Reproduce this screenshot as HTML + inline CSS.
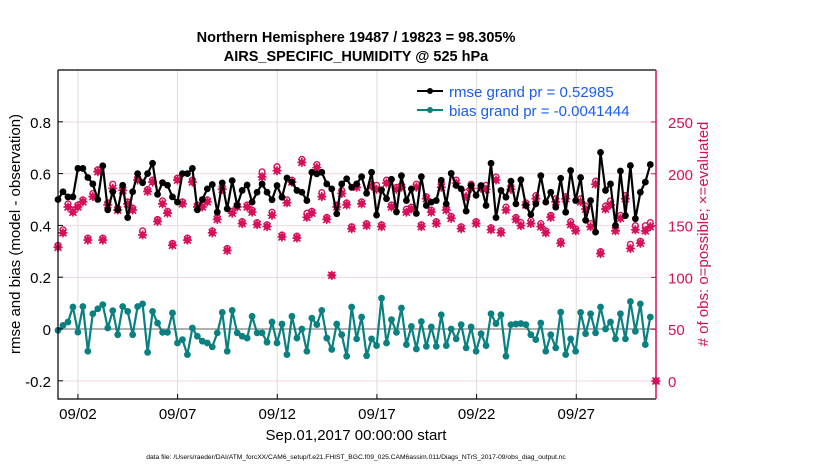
<!DOCTYPE html>
<html><head><meta charset="utf-8"><style>
body{margin:0;background:#fff;}
svg{display:block;font-family:"Liberation Sans",Arial,sans-serif;}
</style></head><body>
<svg id="chart" width="830" height="470" viewBox="0 0 830 470">
<rect x="0" y="0" width="830" height="470" fill="#fff"/>
<text x="356" y="42" text-anchor="middle" font-size="14.5" font-weight="bold">Northern Hemisphere 19487 / 19823 = 98.305%</text>
<text x="356" y="61" text-anchor="middle" font-size="14.5" font-weight="bold">AIRS_SPECIFIC_HUMIDITY @ 525 hPa</text>
<g id="grid"></g>
<g id="marks"></g>
<g id="axes"></g>
<text transform="translate(20,234) rotate(-90)" text-anchor="middle" font-size="15">rmse and bias (model - observation)</text>
<text transform="translate(708,234) rotate(-90)" text-anchor="middle" font-size="15" fill="#d6105a"># of obs: o=possible; ×=evaluated</text>
<text x="356" y="440" text-anchor="middle" font-size="15">Sep.01,2017 00:00:00 start</text>
<text x="356" y="459" text-anchor="middle" font-size="6.7">data file: /Users/raeder/DAI/ATM_forcXX/CAM6_setup/f.e21.FHIST_BGC.f09_025.CAM6assim.011/Diags_NTrS_2017-09/obs_diag_output.nc</text>
<g>
<line x1="417" y1="91" x2="443" y2="91" stroke="#000" stroke-width="2"/><circle cx="430" cy="91" r="3" fill="#000"/>
<text x="449" y="97" font-size="15" fill="#1a5cf0">rmse grand pr = 0.52985</text>
<line x1="417" y1="110" x2="443" y2="110" stroke="#0a8080" stroke-width="2"/><circle cx="430" cy="110" r="3" fill="#0a8080"/>
<text x="449" y="116" font-size="15" fill="#1a5cf0">bias grand pr = -0.0041444</text>
</g>
</svg>
<script>
const rmse = [0.5,0.53,0.51,0.51,0.62,0.62,0.585,0.56,0.5,0.63,0.46,0.53,0.46,0.555,0.43,0.53,0.6,0.565,0.6,0.64,0.52,0.565,0.555,0.51,0.49,0.6,0.6,0.62,0.46,0.5,
0.541,0.558,0.451,0.564,0.464,0.573,0.477,0.535,0.556,0.49,0.528,0.56,0.528,0.499,0.554,0.509,0.583,0.567,0.535,0.528,0.496,0.605,0.599,0.605,0.56,0.541,0.445,0.56,0.58,0.547,
0.56,0.588,0.524,0.605,0.44,0.537,0.503,0.578,0.452,0.592,0.496,0.541,0.446,0.588,0.477,0.49,0.496,0.574,0.483,0.601,0.554,0.541,0.455,0.554,0.516,0.554,0.477,0.64,0.43,0.535,
0.509,0.571,0.483,0.576,0.477,0.442,0.483,0.592,0.49,0.528,0.47,0.582,0.451,0.612,0.496,0.585,0.42,0.496,0.374,0.682,0.535,0.56,0.4,0.61,0.438,0.631,0.426,0.528,0.567,0.635,null];
const bias = [-0.005,0.014,0.027,0.085,-0.012,0.087,-0.086,0.059,0.078,0.094,0.004,0.071,-0.022,0.087,0.068,-0.022,0.087,0.097,-0.09,0.068,0.023,-0.013,-0.013,0.062,-0.054,-0.041,-0.099,0.004,-0.028,-0.047,
-0.054,-0.069,-0.015,0.064,-0.086,0.072,-0.015,-0.028,-0.035,0.049,-0.015,-0.015,-0.051,0.027,-0.054,0.019,-0.099,0.049,-0.035,0,-0.086,0.042,0.017,0.072,-0.035,-0.079,0.019,-0.022,-0.105,0.085,
-0.038,0.046,-0.103,-0.038,-0.064,0.119,-0.054,0.036,-0.013,0.081,-0.06,0.01,-0.077,0.029,-0.067,0.008,-0.067,0.055,-0.064,0,-0.038,0.017,-0.073,0.008,-0.086,-0.018,-0.064,0.059,0.021,0.055,
-0.105,0.017,0.019,0.021,0.017,-0.022,-0.041,0.023,-0.086,-0.022,-0.073,0.065,-0.099,-0.038,-0.086,0.064,-0.018,0.059,-0.015,0.085,0,0.027,-0.038,0.059,-0.038,0.106,-0.009,0.097,-0.06,0.046,null];
const evaluated = [129,143,168,163,168,173,136,178,202,136,170,186,165,184,171,165,194,141,183,192,154,171,162,131,194,171,136,192,168,168,
173,143,156,185,126,162,168,152,168,163,151,197,149,160,203,139,172,192,138,211,158,162,206,178,156,102,168,181,170,147,
187,171,150,188,185,149,191,168,185,187,163,166,187,149,176,163,152,187,165,157,191,147,178,186,152,186,185,146,194,143,
165,185,156,150,170,152,176,149,143,158,173,133,176,151,145,173,166,149,190,123,166,170,145,157,176,128,146,133,145,149,0];
const possible = [131,146,171,165,170,175,138,181,204,138,172,190,167,186,173,167,196,145,185,194,156,174,164,133,196,173,138,194,170,170,
175,145,158,187,128,164,170,154,170,165,153,202,151,163,207,141,175,194,140,214,162,164,209,182,158,102,170,184,172,149,
189,173,152,190,189,151,194,170,187,189,166,168,190,151,178,165,154,191,167,159,194,149,182,190,154,188,189,148,197,145,
168,188,158,153,172,155,179,152,145,160,176,135,178,154,147,176,169,152,193,125,169,174,148,160,179,132,150,135,150,153,0];
const dateLabels = ["09/02","09/07","09/12","09/17","09/22","09/27"];
const dateDays = [1,6,11,16,21,26];
const leftTicks = [-0.2,0,0.2,0.4,0.6,0.8];
const rightTicks = [0,50,100,150,200,250];

const NS="http://www.w3.org/2000/svg";
const L=58,R=656,T=70,B=399;
const xs=t=>L+(t/30)*(R-L);
const yl=v=>329-v*259;
const yr=c=>381-c*(259/250);
const tOf=k=>k*0.2497;
function mk(tag,attrs,parent){const e=document.createElementNS(NS,tag);for(const k in attrs)e.setAttribute(k,attrs[k]);parent.appendChild(e);return e;}
const grid=document.getElementById('grid'),marks=document.getElementById('marks'),axes=document.getElementById('axes');
const PINK="#d6105a";

dateDays.forEach((d,i)=>{
  const x=xs(d);
  const g=mk('line',{x1:x,y1:T,x2:x,y2:B,stroke:'#ddd','stroke-width':1},grid);
  
  
  const tk=mk('line',{x1:x,y1:B,x2:x,y2:B-5,stroke:'#000','stroke-width':1},axes);
  
  
  const tx=mk('text',{x:x,y:B+20,'text-anchor':'middle','font-size':15},axes);
  tx.textContent=dateLabels[i];
  
  
});
rightTicks.forEach(c=>{
  const y=yr(c);
  const g=mk('line',{x1:L,y1:y,x2:R,y2:y,stroke:'#f0d6e0','stroke-width':1},grid);
  
  
  const tk=mk('line',{x1:R-5,y1:y,x2:R,y2:y,stroke:PINK,'stroke-width':1},axes);
  
  
  const tx=mk('text',{x:R+12,y:y+6,'font-size':15,fill:PINK},axes);
  tx.textContent=c;
  
  
});
leftTicks.forEach(v=>{
  const y=yl(v);
  const tk=mk('line',{x1:L,y1:y,x2:L+5,y2:y,stroke:'#000','stroke-width':1},axes);
  
  
  const tx=mk('text',{x:L-7,y:y+6,'text-anchor':'end','font-size':15},axes);
  tx.textContent=v===0?'0':v.toFixed(1);
  
  
});
const zl=mk('line',{x1:L,y1:yl(0),x2:R,y2:yl(0),stroke:'#b0b0b0','stroke-width':2},grid);



evaluated.forEach((c,k)=>{
  const x=k===evaluated.length-1?R:xs(tOf(k)),y=yr(c);
  const g=mk('g',{},marks);
  
  
  mk('circle',{cx:x,cy:y,r:3.2,fill:PINK},g);
  mk('path',{d:`M${x-4.5},${y}H${x+4.5}M${x},${y-4.5}V${y+4.5}M${x-3.5},${y-3.5}L${x+3.5},${y+3.5}M${x-3.5},${y+3.5}L${x+3.5},${y-3.5}`,stroke:PINK,'stroke-width':1.6},g);
});
possible.forEach((c,k)=>{
  const x=k===possible.length-1?R:xs(tOf(k)),y=yr(c);
  const p=mk('circle',{cx:x,cy:y,r:2.8,fill:'none',stroke:PINK,'stroke-width':1.4},marks);
  
  
});
function series(arr,color,name){
  let d='';
  arr.forEach((v,k)=>{if(v===null)return;d+=(d?'L':'M')+xs(tOf(k)).toFixed(1)+','+yl(v).toFixed(1);});
  const p=mk('path',{d:d,fill:'none',stroke:color,'stroke-width':2.2,'stroke-linejoin':'round'},marks);
  
  
  arr.forEach((v,k)=>{if(v===null)return;
    const c=mk('circle',{cx:xs(tOf(k)),cy:yl(v),r:3.4,fill:color},marks);
    
    
  });
}
series(rmse,'#000','rmse');
series(bias,'#0a8080','bias');

const box=mk('path',{d:`M${L},${T}H${R}M${L},${T}V${B}H${R}`,fill:'none',stroke:'#000','stroke-width':1.2},axes);


const rs=mk('line',{x1:R,y1:T,x2:R,y2:B,stroke:PINK,'stroke-width':1.5},axes);


</script>
</body></html>
